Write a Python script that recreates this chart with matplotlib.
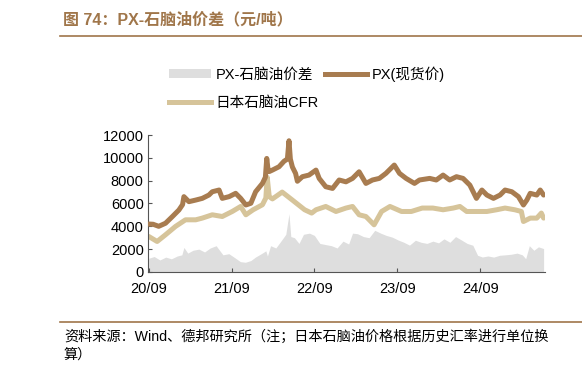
import matplotlib
matplotlib.use("Agg")
import matplotlib.pyplot as plt
import matplotlib.dates as mdates
import pandas as pd
from matplotlib.lines import Line2D
from matplotlib.patches import Patch

plt.rcParams['font.family'] = ['Liberation Sans', 'Noto Sans CJK SC', 'DejaVu Sans']

# PX spot price
px_dates = ['2020-09-01', '2020-09-20', '2020-10-15', '2020-11-14', '2020-12-14', '2021-01-12',
            '2021-01-28', '2021-02-03', '2021-02-25', '2021-03-27', '2021-04-25', '2021-05-24',
            '2021-06-08', '2021-07-08', '2021-07-22', '2021-08-21', '2021-09-19', '2021-10-11',
            '2021-11-03', '2021-11-25', '2021-12-16', '2022-01-15', '2022-01-28', '2022-02-03',
            '2022-02-08', '2022-02-14', '2022-02-28', '2022-03-29', '2022-04-20', '2022-05-05',
            '2022-05-12', '2022-05-18', '2022-05-27', '2022-06-10', '2022-06-18', '2022-07-10',
            '2022-08-08', '2022-09-08', '2022-09-22', '2022-10-21', '2022-11-20', '2022-12-19',
            '2023-01-18', '2023-02-16', '2023-03-17', '2023-04-16', '2023-05-15', '2023-06-14',
            '2023-07-13', '2023-08-19', '2023-09-11', '2023-10-10', '2023-11-16', '2023-12-08',
            '2024-01-22', '2024-02-20', '2024-03-21', '2024-04-19', '2024-05-19', '2024-06-17',
            '2024-07-17', '2024-08-15', '2024-09-08', '2024-09-30', '2024-10-29', '2024-11-27',
            '2024-12-19', '2025-01-18', '2025-02-16', '2025-03-10', '2025-03-25', '2025-04-09',
            '2025-05-08', '2025-05-23', '2025-06-07']
px_values = [4200, 4180, 4000, 4270, 4850, 5430,
             5900, 6600, 6160, 6300, 6450, 6740,
             7030, 7180, 6450, 6600, 6890, 6450,
             5870, 6020, 7030, 7760, 8300, 9950,
             9100, 8800, 8930, 9220, 9700, 9900,
             11500, 9900, 9200, 8640, 7950, 8350,
             8490, 8930, 8200, 7470, 7320, 8060,
             7900, 8200, 8780, 7760, 8060, 8200,
             8640, 9370, 8640, 8200, 7760, 8060,
             8200, 8060, 8490, 8060, 8350, 8200,
             7610, 6450, 7180, 6740, 6450, 6740,
             7180, 7030, 6600, 5870, 6300, 6890,
             6740, 7180, 6740]

# Japan naphtha CFR
cfr_dates = ['2020-09-01', '2020-10-08', '2020-11-14', '2020-12-28', '2021-02-10', '2021-03-27',
             '2021-04-25', '2021-06-08', '2021-07-22', '2021-09-04', '2021-10-11', '2021-11-03',
             '2021-12-05', '2022-01-15', '2022-01-30', '2022-02-05', '2022-02-14', '2022-02-28',
             '2022-04-12', '2022-05-27', '2022-07-20', '2022-08-20', '2022-09-08', '2022-10-21',
             '2022-12-05', '2023-01-18', '2023-02-16', '2023-03-17', '2023-04-16', '2023-05-22',
             '2023-06-24', '2023-07-31', '2023-09-20', '2023-11-02', '2023-12-20', '2024-02-05',
             '2024-03-21', '2024-05-05', '2024-06-03', '2024-07-03', '2024-08-15', '2024-09-30',
             '2024-11-12', '2024-12-19', '2025-01-31', '2025-03-01', '2025-03-10', '2025-04-09',
             '2025-05-08', '2025-05-28', '2025-06-07']
cfr_values = [3110, 2670, 3260, 3990, 4570, 4570,
              4720, 5010, 4860, 5300, 5740, 5010,
              5450, 5890, 6480, 8300, 6600, 6400,
              7000, 6300, 5450, 5160, 5450, 5740,
              5300, 5600, 5740, 5010, 4860, 4130,
              5300, 5740, 5300, 5300, 5600, 5600,
              5450, 5600, 5740, 5300, 5300, 5300,
              5450, 5600, 5450, 5300, 4420, 4720,
              4720, 5160, 4720]

# PX - naphtha spread
sp_dates = ['2020-09-01', '2020-09-25', '2020-10-20', '2020-11-15', '2020-12-10', '2021-01-05',
            '2021-01-25', '2021-02-03', '2021-02-20', '2021-03-15', '2021-04-10', '2021-05-05',
            '2021-05-30', '2021-06-25', '2021-07-08', '2021-07-25', '2021-08-20', '2021-09-15',
            '2021-10-10', '2021-11-01', '2021-11-25', '2021-12-15', '2022-01-10', '2022-01-30',
            '2022-02-06', '2022-02-20', '2022-03-15', '2022-04-10', '2022-04-28', '2022-05-12',
            '2022-05-20', '2022-06-05', '2022-06-25', '2022-07-15', '2022-08-10', '2022-09-01',
            '2022-09-25', '2022-10-20', '2022-11-15', '2022-12-10', '2023-01-05', '2023-01-30',
            '2023-02-16', '2023-03-10', '2023-04-05', '2023-04-30', '2023-05-25', '2023-06-20',
            '2023-07-15', '2023-08-10', '2023-09-05', '2023-09-30', '2023-10-25', '2023-11-20',
            '2023-12-15', '2024-01-10', '2024-02-05', '2024-03-01', '2024-03-25', '2024-04-20',
            '2024-05-15', '2024-06-10', '2024-07-05', '2024-07-30', '2024-08-20', '2024-09-10',
            '2024-10-05', '2024-10-30', '2024-11-25', '2024-12-20', '2025-01-15', '2025-02-10',
            '2025-03-05', '2025-03-20', '2025-04-05', '2025-04-25', '2025-05-15', '2025-06-07']
sp_values = [1200, 1350, 1050, 1300, 1150, 1400,
             1500, 2150, 1650, 1900, 2000, 1750,
             2100, 2300, 1950, 1500, 1600, 1250,
             900, 850, 1000, 1300, 1600, 1850,
             1400, 2300, 2100, 2800, 3300, 5100,
             3100, 3000, 2500, 3300, 3400, 3200,
             2500, 2400, 2300, 2100, 2700, 2450,
             3400, 3350, 3100, 3000, 3650, 3400,
             3200, 3050, 2800, 2600, 2350, 2780,
             2600, 2500, 2700, 2550, 2900, 2600,
             3100, 2800, 2500, 2340, 1460, 1310,
             1400, 1300, 1460, 1500, 1550, 1650,
             1500, 1160, 2300, 1900, 2200, 2050]

px_d = pd.to_datetime(px_dates)
cfr_d = pd.to_datetime(cfr_dates)
sp_d = pd.to_datetime(sp_dates)

C_PX = '#A87C50'
C_CFR = '#D6C49A'
C_SP = '#DEDEDE'
C_TITLE = '#A0764A'

fig = plt.figure(figsize=(5.82, 3.71), dpi=100)
ax = fig.add_axes([0.254, 0.267, 0.682, 0.369])

ax.fill_between(sp_d, 0, sp_values, color=C_SP, linewidth=0, zorder=1)
ax.plot(px_d, px_values, color=C_PX, linewidth=3.6, zorder=3, solid_capstyle='round',
        solid_joinstyle='round')
ax.plot(cfr_d, cfr_values, color=C_CFR, linewidth=3.6, zorder=2, solid_capstyle='round',
        solid_joinstyle='round')

ax.set_ylim(0, 12000)
ax.set_yticks([0, 2000, 4000, 6000, 8000, 10000, 12000])
ax.set_xlim(pd.Timestamp('2020-08-28'), pd.Timestamp('2025-06-12'))
ax.set_xticks(pd.to_datetime(['2020-09-01', '2021-09-01', '2022-09-01', '2023-09-01', '2024-09-01']))
ax.xaxis.set_major_formatter(mdates.DateFormatter('%y/%m'))
for s in ['top', 'right']:
    ax.spines[s].set_visible(False)
for s in ['left', 'bottom']:
    ax.spines[s].set_color('#555555')
    ax.spines[s].set_linewidth(0.8)
ax.tick_params(axis='both', direction='in', length=3, width=0.8, color='#555555',
               labelsize=10.5, labelcolor='black', pad=3)
ax.tick_params(axis='x', pad=7)

handles = [Patch(facecolor=C_SP, edgecolor='none'),
           Line2D([], [], color=C_CFR, linewidth=3.6),
           Line2D([], [], color=C_PX, linewidth=3.6)]
labels = ['PX-石脑油价差', '日本石脑油CFR', 'PX(现货价)']
fig.legend(handles, labels, ncol=2, loc='center', bbox_to_anchor=(0.527, 0.763),
           frameon=False, fontsize=10.5, handlelength=2.9, handletextpad=0.3,
           columnspacing=0.4, labelspacing=0.95, handleheight=0.5)

fig.text(0.108, 0.948, '图 74：PX-石脑油价差（元/吨）', fontsize=11.5, fontweight='bold',
         color=C_TITLE, ha='left', va='center')
fig.add_artist(Line2D([0.103, 1.0], [0.902, 0.902], color=C_TITLE, linewidth=1.2))
fig.add_artist(Line2D([0.103, 1.0], [0.132, 0.132], color=C_TITLE, linewidth=1.2))
fig.text(0.11, 0.092, '资料来源：Wind、德邦研究所（注；日本石脑油价格根据历史汇率进行单位换',
         fontsize=10.2, color='black', ha='left', va='center')
fig.text(0.11, 0.043, '算）', fontsize=10.2, color='black', ha='left', va='center')

fig.savefig('out.png', dpi=100)
